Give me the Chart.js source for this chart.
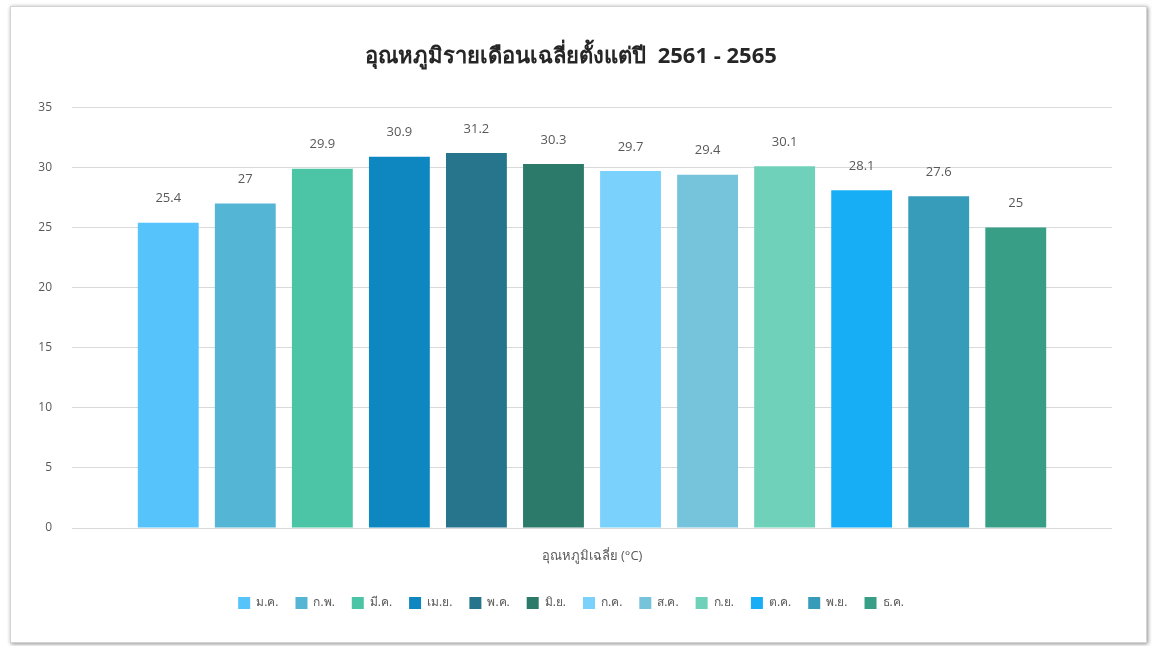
<!DOCTYPE html>
<html>
<head>
<meta charset="utf-8">
<script src="https://cdn.jsdelivr.net/npm/chart.js@4"></script>
<style>
  html, body { margin:0; padding:0; background:#fff; }
  #frame {
    position:absolute; left:10px; top:6px; width:1135px; height:635px;
    border:1px solid #d4d4d4; background:#fff;
    box-shadow: 1px 1px 4px rgba(0,0,0,0.45);
  }
  #wrap { position:absolute; left:0; top:0; width:1152px; height:646px; }
</style>
</head>
<body>
<div id="frame"></div>
<div id="wrap"><canvas id="tempChart"></canvas></div>
<script>
const category = ["อุณหภูมิเฉลี่ย (°C)"];
const months = ["ม.ค.", "ก.พ.", "มี.ค.", "เม.ย.", "พ.ค.", "มิ.ย.", "ก.ค.", "ส.ค.", "ก.ย.", "ต.ค.", "พ.ย.", "ธ.ค."];
const temps = [25.4, 27, 29.9, 30.9, 31.2, 30.3, 29.7, 29.4, 30.1, 28.1, 27.6, 25];
const colors = ["#56c4fb", "#55b5d5", "#4cc5a6", "#0e87c1", "#27758c", "#2b7a6a",
                "#79d1fc", "#76c4dc", "#6fd1ba", "#18aef5", "#379bba", "#389e85"];

const FONT = "'Open Sans', 'Noto Sans', sans-serif";

/* ===============================
   VALUE LABELS ABOVE BARS
================================ */
const valueLabels = {
  id: "valueLabels",
  afterDatasetsDraw(chart) {
    const ctx = chart.ctx;
    ctx.save();
    ctx.font = "13px " + FONT;
    ctx.fillStyle = "#595959";
    ctx.textAlign = "center";
    ctx.textBaseline = "middle";
    chart.data.datasets.forEach((ds, i) => {
      chart.getDatasetMeta(i).data.forEach((bar, j) => {
        ctx.fillText(String(ds.data[j]), bar.x, bar.y - 24);
      });
    });
    ctx.restore();
  }
};

new Chart(document.getElementById("tempChart"), {
  type: "bar",
  data: {
    labels: category,
    datasets: months.map((m, i) => ({
      label: m,
      data: [temps[i]],
      backgroundColor: colors[i],
      borderWidth: 0,
      categoryPercentage: 0.889,
      barPercentage: 0.79
    }))
  },
  options: {
    responsive: true,
    maintainAspectRatio: false,
    animation: false,
    layout: { padding: { top: 20, left: 30, right: 40, bottom: 27 } },
    plugins: {
      title: {
        display: true,
        text: "อุณหภูมิรายเดือนเฉลี่ยตั้งแต่ปี  2561 - 2565",
        color: "#262626",
        font: { family: FONT, size: 22, weight: "bold" },
        padding: { top: 24, bottom: 37 }
      },
      legend: {
        position: "bottom",
        labels: {
          boxWidth: 12,
          boxHeight: 12,
          color: "#595959",
          font: { family: FONT, size: 12 },
          padding: 17
        }
      },
      tooltip: { enabled: false }
    },
    scales: {
      x: {
        grid: { display: false },
        border: { display: false },
        ticks: { color: "#595959", font: { family: FONT, size: 13 }, padding: 12 },
        afterFit: s => { s.height = 52; }
      },
      y: {
        min: 0,
        max: 35,
        ticks: { stepSize: 5, color: "#595959", font: { family: FONT, size: 12 }, padding: 20 },
        grid: { color: "#d9d9d9", lineWidth: 1, drawTicks: false },
        border: { display: false },
        afterFit: s => { s.width = 42; }
      }
    }
  },
  plugins: [valueLabels]
});
</script>
</body>
</html>
